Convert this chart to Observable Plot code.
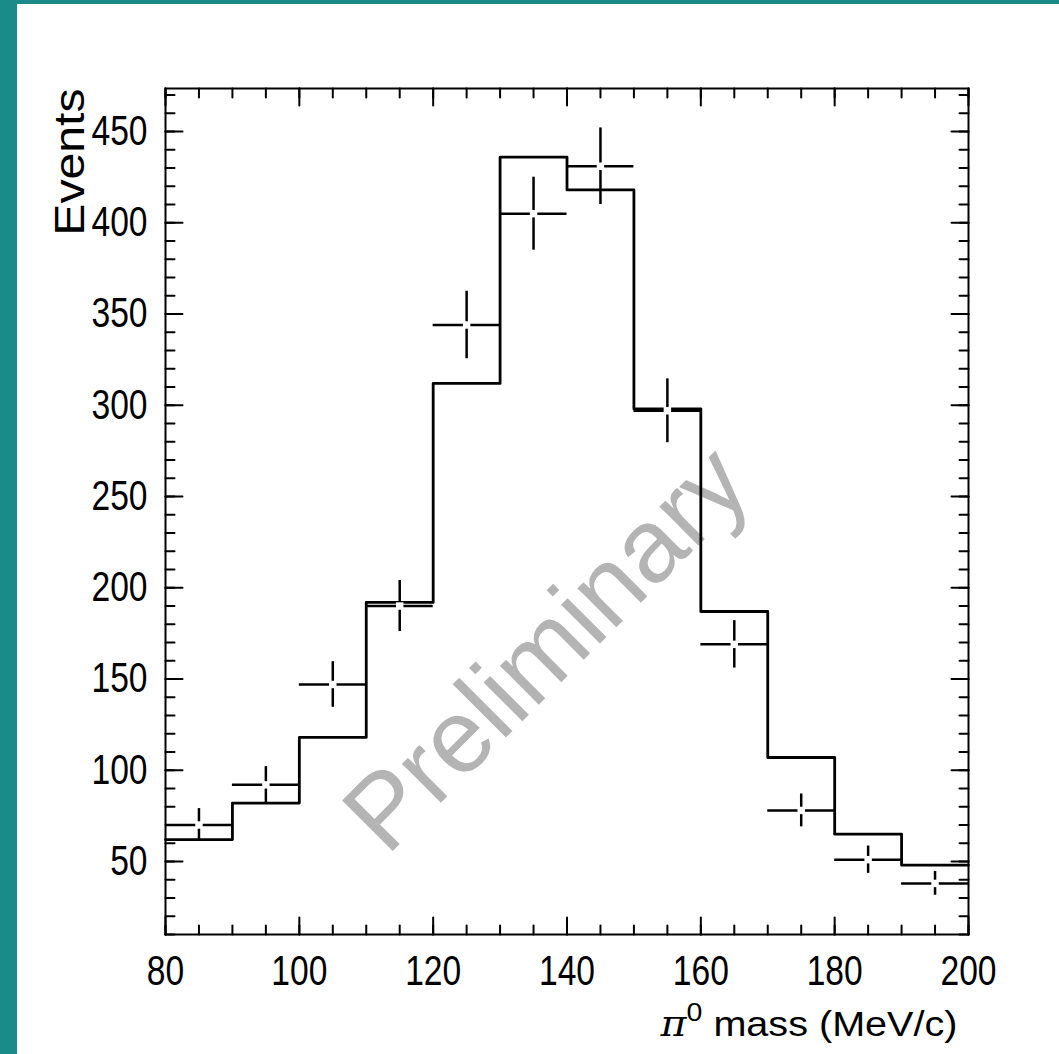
<!DOCTYPE html>
<html><head><meta charset="utf-8">
<script src="https://cdn.jsdelivr.net/npm/d3@7"></script>
<script src="https://cdn.jsdelivr.net/npm/@observablehq/plot@0.6"></script>
<style>
html,body{margin:0;padding:0;background:#fff;overflow:hidden;}
#wrap{position:absolute;left:0;top:0;width:1042px;height:1050px;border-left:17px solid #1a8b88;border-top:4px solid #1a8b88;background:#fff;}
#wrap svg{display:block;}
</style></head><body><div id="wrap"></div>
<script>
// ---- data ----
const binEdges   = [80, 90, 100, 110, 120, 130, 140, 150, 160, 170, 180, 190, 200];
const mcCounts   = [62, 82, 118, 192, 312, 436, 418, 298, 187, 107, 65, 48];
const dataMass   = [85, 95, 105, 115, 125, 135, 145, 155, 165, 175, 185, 195];
const dataCounts = [70, 92, 147, 190, 344, 405, 431, 297, 169, 78, 51, 38];
const dataErrors = [9, 10, 12.5, 14, 18.5, 20, 21, 17.5, 13, 9, 7.5, 6.5];
const binHalfWidth = 5;
const xMajorTicks = [80, 100, 120, 140, 160, 180, 200];
const xMinorTicks = d3.range(80, 201, 5);
const yMajorTicks = [50, 100, 150, 200, 250, 300, 350, 400, 450];
const yMinorTicks = d3.range(10, 471, 10);
const xDomain = [80, 200];
const yDomain = [10, 473.6];
const xLabelParts = ["π", "0", " mass (MeV/c)"];
const xLabel = xLabelParts.join("");
const yLabel = "Events";
const watermark = "Preliminary";

// ---- derived tables ----
const mcSteps = binEdges.map((x, i) => ({x, y: mcCounts[Math.min(i, mcCounts.length - 1)]}));
const points = dataMass.map((x, i) => ({x, y: dataCounts[i], e: dataErrors[i]}));

const tickShape = {draw(ctx, l) { ctx.moveTo(0, 0); ctx.lineTo(0, -l); }};
const tickStyle = {anchor: "start", shape: tickShape, stroke: "black", strokeWidth: 2};
const FONT = "'Liberation Sans', Arial, Helvetica, sans-serif";

const chart = Plot.plot({
  width: 1042, height: 1050,
  marginLeft: 148, marginRight: 91, marginTop: 84, marginBottom: 120,
  x: {domain: xDomain},
  y: {domain: yDomain},
  style: {fontFamily: FONT, background: "white", color: "black"},
  marks: [
    Plot.text([watermark], {frameAnchor: "middle", dx: -20, dy: 138, rotate: -45, fontSize: 104,
      fill: "#b4b4b4", text: d => d, textAnchor: "middle", lineAnchor: "middle"}),
    Plot.line(mcSteps, {x: "x", y: "y", curve: "step-after", stroke: "black", strokeWidth: 2.8}),
    Plot.ruleY(points, {y: "y", x1: d => d.x - binHalfWidth, x2: d => d.x + binHalfWidth, stroke: "black", strokeWidth: 2.5}),
    Plot.ruleX(points, {x: "x", y1: d => d.y - d.e, y2: d => d.y + d.e, stroke: "black", strokeWidth: 2.5}),
    Plot.dot(points, {x: "x", y: "y", symbol: "square", r: 4.2, fill: "white", stroke: null}),
    // ticks on all four sides, pointing inward
    Plot.vector(xMinorTicks, {x: d => d, y: yDomain[0], rotate: 0, length: 9, ...tickStyle}),
    Plot.vector(xMajorTicks, {x: d => d, y: yDomain[0], rotate: 0, length: 17, ...tickStyle}),
    Plot.vector(xMinorTicks, {x: d => d, y: yDomain[1], rotate: 180, length: 9, ...tickStyle}),
    Plot.vector(xMajorTicks, {x: d => d, y: yDomain[1], rotate: 180, length: 17, ...tickStyle}),
    Plot.vector(yMinorTicks, {y: d => d, x: xDomain[0], rotate: 90, length: 9, ...tickStyle}),
    Plot.vector(yMajorTicks, {y: d => d, x: xDomain[0], rotate: 90, length: 17, ...tickStyle}),
    Plot.vector(yMinorTicks, {y: d => d, x: xDomain[1], rotate: -90, length: 9, ...tickStyle}),
    Plot.vector(yMajorTicks, {y: d => d, x: xDomain[1], rotate: -90, length: 17, ...tickStyle}),
    Plot.axisX(xMajorTicks, {anchor: "bottom", tickSize: 0, tickPadding: 21, fontSize: 42, tickFormat: d => String(d), label: null}),
    Plot.axisY(yMajorTicks, {anchor: "left", tickSize: 0, tickPadding: 18, fontSize: 42, tickFormat: d => String(d), label: null}),
    Plot.text([xLabel], {frameAnchor: "bottom-right", dx: -11, dy: 101, fontSize: 36, text: d => d,
      textAnchor: "end", lineAnchor: "bottom", fill: "black"}),
    Plot.text([yLabel], {frameAnchor: "top-left", dx: -82, dy: 0, rotate: -90, fontSize: 43, text: d => d,
      textAnchor: "end", lineAnchor: "bottom", fill: "black"}),
    Plot.frame({stroke: "black", strokeWidth: 2})
  ]
});

function squeeze(sel, sx, sy) {
  sel.each(function() {
    const t = this.getAttribute("transform") || "";
    this.setAttribute("transform", `${t} scale(${sx},${sy})`);
  });
}
const s = d3.select(chart);
squeeze(s.selectAll('g[aria-label="x-axis tick label"] text, g[aria-label="y-axis tick label"] text'), 0.8, 1);
s.selectAll('g[aria-label="text"] text').each(function() {
  const txt = this.textContent;
  if (txt === yLabel) squeeze(d3.select(this), 1.12, 1);
  if (txt === xLabel) {
    squeeze(d3.select(this), 1.1, 1);
    const el = d3.select(this);
    el.text(null);
    el.append("tspan").attr("font-family", "'DejaVu Serif', serif").attr("font-style", "italic").text(xLabelParts[0]);
    el.append("tspan").attr("font-size", "0.72em").attr("dy", "-0.55em").text(xLabelParts[1]);
    el.append("tspan").attr("dy", "0.4em").text(xLabelParts[2]);
  }
});
document.getElementById("wrap").appendChild(chart);
</script>
</body></html>
